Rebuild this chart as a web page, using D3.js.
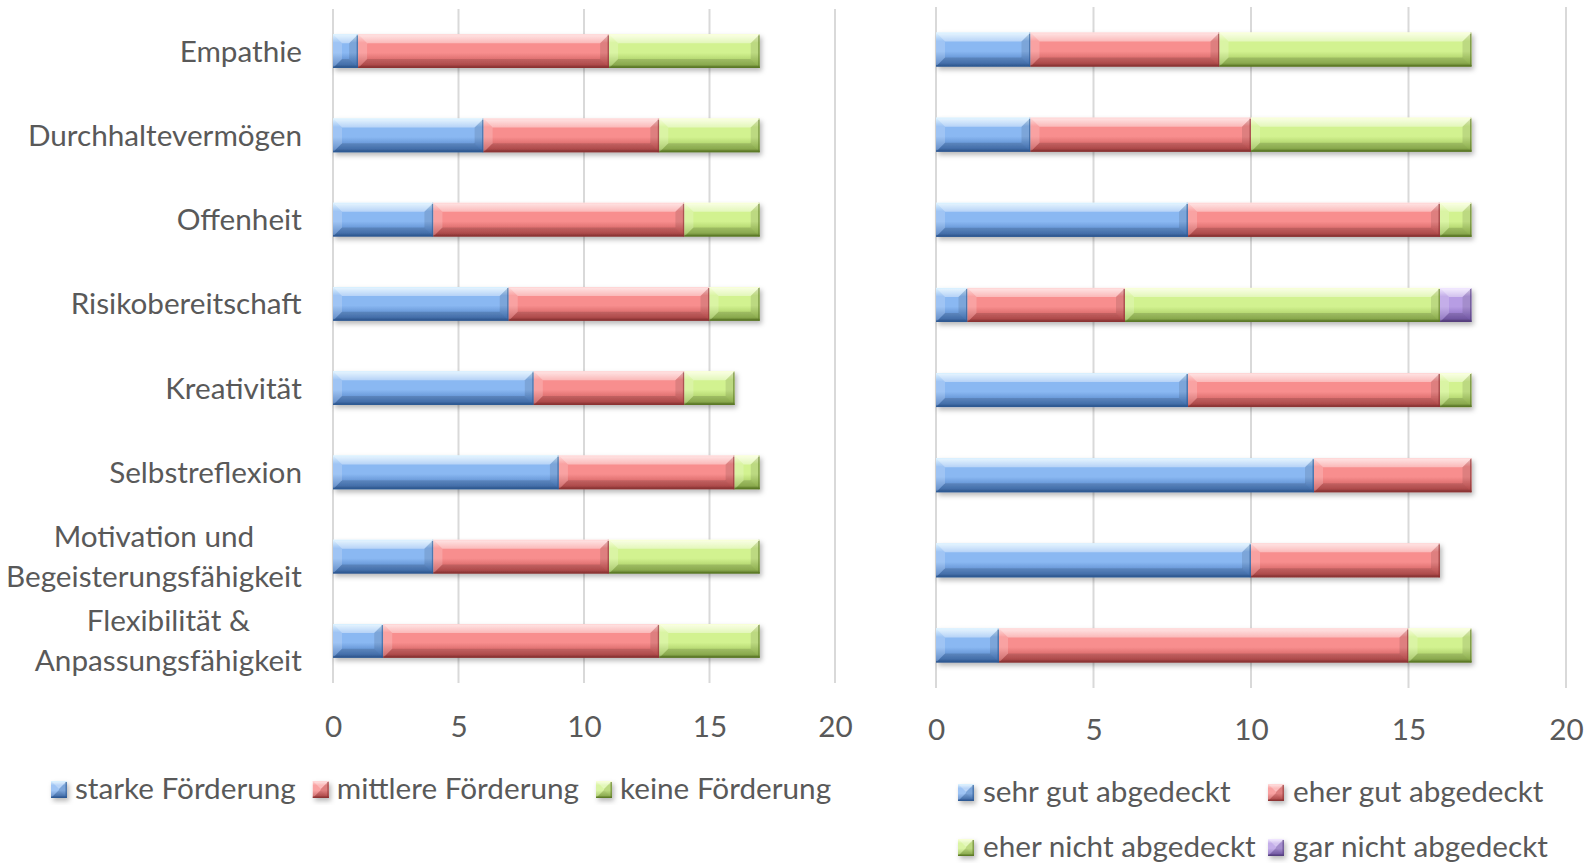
<!DOCTYPE html>
<html>
<head>
<meta charset="utf-8">
<script src="https://cdn.jsdelivr.net/npm/d3@7"></script>
<style>
  html, body { margin: 0; padding: 0; background: #ffffff; }
  svg { display: block; }
  text { font-family: Lato, "Open Sans", sans-serif; fill: #595959; }
</style>
</head>
<body>
<svg id="chart" width="1590" height="863"></svg>
<script>
// Categories (a "\n" marks a line break in the label)
const categories = [
  "Empathie",
  "Durchhaltevermögen",
  "Offenheit",
  "Risikobereitschaft",
  "Kreativität",
  "Selbstreflexion",
  "Motivation und\nBegeisterungsfähigkeit",
  "Flexibilität &\nAnpassungsfähigkeit"
];

// Left panel: degree of promotion
const foerderungSeries = ["starke Förderung", "mittlere Förderung", "keine Förderung"];
const starkeFoerderung   = [1, 6, 4, 7, 8, 9, 4, 2];
const mittlereFoerderung = [10, 7, 10, 8, 6, 7, 7, 11];
const keineFoerderung    = [6, 4, 3, 2, 2, 1, 6, 4];

// Right panel: coverage
const abdeckungSeries = ["sehr gut abgedeckt", "eher gut abgedeckt", "eher nicht abgedeckt", "gar nicht abgedeckt"];
const sehrGut   = [3, 3, 8, 1, 8, 12, 10, 2];
const eherGut   = [6, 7, 8, 5, 8, 5, 6, 13];
const eherNicht = [8, 7, 1, 10, 1, 0, 0, 2];
const garNicht  = [0, 0, 0, 1, 0, 0, 0, 0];

const xTicks = [0, 5, 10, 15, 20];

// Bevel palettes: light top, face, lower face, dark edge
const palettes = [
  { top: "#d8f0ff", face: "#8ab8f2", low: "#4f80c4", edge: "#2f5b96" },
  { top: "#ffd6d6", face: "#f88e8e", low: "#c95757", edge: "#8e3434" },
  { top: "#f8ffd6", face: "#d2f290", low: "#9fc35a", edge: "#5d7a26" },
  { top: "#efe4ff", face: "#b79de4", low: "#8466bb", edge: "#56407f" }
];

const FONT = 29.7;
const svg = d3.select("#chart");
const defs = svg.append("defs");

palettes.forEach((p, i) => {
  const g = defs.append("linearGradient")
    .attr("id", "grad" + i).attr("x1", 0).attr("y1", 0).attr("x2", 0).attr("y2", 1);
  g.append("stop").attr("offset", "0%").attr("stop-color", p.top);
  g.append("stop").attr("offset", "25%").attr("stop-color", p.face);
  g.append("stop").attr("offset", "55%").attr("stop-color", p.face);
  g.append("stop").attr("offset", "90%").attr("stop-color", p.low);
  g.append("stop").attr("offset", "100%").attr("stop-color", p.edge);
});

const shadow = defs.append("filter").attr("id", "shadow")
  .attr("x", "-5%").attr("y", "-30%").attr("width", "110%").attr("height", "170%");
shadow.append("feDropShadow")
  .attr("dx", 2).attr("dy", 3).attr("stdDeviation", 2.5)
  .attr("flood-color", "#000").attr("flood-opacity", 0.28);

// Draws one beveled block into group g
function bevelBlock(g, x0, y0, w, h, idx) {
  const b = Math.min(9, w / 2, h / 2);
  const p = palettes[idx];
  g.append("rect").attr("x", x0).attr("y", y0).attr("width", w).attr("height", h)
    .attr("fill", `url(#grad${idx})`);
  const poly = (pts, fill, op) => g.append("polygon")
    .attr("points", pts.map(d => d.join(",")).join(" "))
    .attr("fill", fill).attr("fill-opacity", op);
  // top bevel
  poly([[x0, y0], [x0 + w, y0], [x0 + w - b, y0 + b], [x0 + b, y0 + b]], "#ffffff", 0.40);
  // bottom bevel
  poly([[x0, y0 + h], [x0 + w, y0 + h], [x0 + w - b, y0 + h - b], [x0 + b, y0 + h - b]], "#000000", 0.13);
  // left bevel
  poly([[x0, y0], [x0 + b, y0 + b], [x0 + b, y0 + h - b], [x0, y0 + h]], "#ffffff", 0.18);
  // right bevel
  poly([[x0 + w, y0], [x0 + w - b, y0 + b], [x0 + w - b, y0 + h - b], [x0 + w, y0 + h]], "#000000", 0.10);
  // crisp edges
  g.append("line").attr("x1", x0).attr("x2", x0 + w).attr("y1", y0 + h - 0.75).attr("y2", y0 + h - 0.75)
    .attr("stroke", p.edge).attr("stroke-width", 1.5).attr("stroke-opacity", 0.8);
  g.append("line").attr("x1", x0 + w - 0.75).attr("x2", x0 + w - 0.75).attr("y1", y0).attr("y2", y0 + h)
    .attr("stroke", p.edge).attr("stroke-width", 1.5).attr("stroke-opacity", 0.6);
  g.append("line").attr("x1", x0).attr("x2", x0 + w).attr("y1", y0 + 0.5).attr("y2", y0 + 0.5)
    .attr("stroke", p.top).attr("stroke-width", 1);
}

function drawPanel(opts) {
  const { series, values, xRange, yRange, tickY, showLabels } = opts;
  const x = d3.scaleLinear().domain([0, 20]).range(xRange);
  const y = d3.scaleBand().domain(categories).range(yRange).paddingInner(0.6).paddingOuter(0.3);

  const rows = categories.map((c, i) => {
    const r = { cat: c };
    series.forEach((s, k) => { r[s] = values[k][i]; });
    return r;
  });
  const stacked = d3.stack().keys(series)(rows);

  const panel = svg.append("g");

  // vertical gridlines
  panel.append("g").selectAll("line").data(xTicks).join("line")
    .attr("x1", d => x(d)).attr("x2", d => x(d))
    .attr("y1", yRange[0]).attr("y2", yRange[1])
    .attr("stroke", "#d9d9d9").attr("stroke-width", 2);

  // tick labels
  const axis = d3.axisBottom(x).tickValues(xTicks).tickSize(0).tickPadding(0);
  const ax = panel.append("g").attr("transform", `translate(0,${tickY})`).call(axis);
  ax.select(".domain").remove();
  ax.selectAll("text")
    .attr("dy", "0.35em").attr("y", 0)
    .style("font-size", FONT + "px").style("font-family", "Lato, sans-serif")
    .attr("fill", "#595959");

  // stacked bars
  const bars = panel.append("g").attr("filter", "url(#shadow)");
  stacked.forEach((layer, k) => {
    layer.forEach(d => {
      const w = x(d[1]) - x(d[0]);
      if (w <= 0) return;
      bevelBlock(bars, x(d[0]), y(d.data.cat), w, y.bandwidth(), k);
    });
  });

  // category labels
  if (showLabels) {
    const lab = panel.append("g");
    categories.forEach(c => {
      const lines = c.split("\n");
      const cy = y(c) + y.bandwidth() / 2;
      const lh = 40;
      const t = lab.append("text")
        .attr("text-anchor", "middle")
        .style("font-size", FONT + "px");
      lines.forEach((ln, i) => {
        t.append("tspan").attr("x", 0)
          .attr("y", cy + (i - (lines.length - 1) / 2) * lh)
          .attr("dy", "0.35em").text(ln);
      });
      // right-align the centred block at the label edge
      const bb = t.node().getBBox();
      t.attr("transform", `translate(${302 - bb.width / 2},0)`);
    });
  }
  return { x, y };
}

drawPanel({
  series: foerderungSeries,
  values: [starkeFoerderung, mittlereFoerderung, keineFoerderung],
  xRange: [333, 835], yRange: [9, 683], tickY: 727, showLabels: true
});

drawPanel({
  series: abdeckungSeries,
  values: [sehrGut, eherGut, eherNicht, garNicht],
  xRange: [936, 1566], yRange: [7, 688], tickY: 730, showLabels: false
});

// legend swatch
function swatch(g, x0, cy, idx) {
  bevelBlock(g, x0, cy - 8, 16, 17, idx);
}

// left legend: one flowing row
const legL = svg.append("g").attr("filter", "url(#shadow)");
const legLText = svg.append("g");
let lx = 51;
foerderungSeries.forEach((s, i) => {
  swatch(legL, lx, 789, i);
  const t = legLText.append("text").attr("x", lx + 24).attr("y", 789).attr("dy", "0.35em")
    .style("font-size", FONT + "px").text(s);
  lx = lx + 24 + t.node().getComputedTextLength() + 17;
});

// right legend: two columns, two rows
const legR = svg.append("g").attr("filter", "url(#shadow)");
const legRText = svg.append("g");
const colX = [958, 1268];
const rowY = [792, 847];
abdeckungSeries.forEach((s, i) => {
  const cx = colX[i % 2], cy = rowY[Math.floor(i / 2)];
  swatch(legR, cx, cy, i);
  legRText.append("text").attr("x", cx + 25).attr("y", cy).attr("dy", "0.35em")
    .style("font-size", FONT + "px").text(s);
});
</script>
</body>
</html>
